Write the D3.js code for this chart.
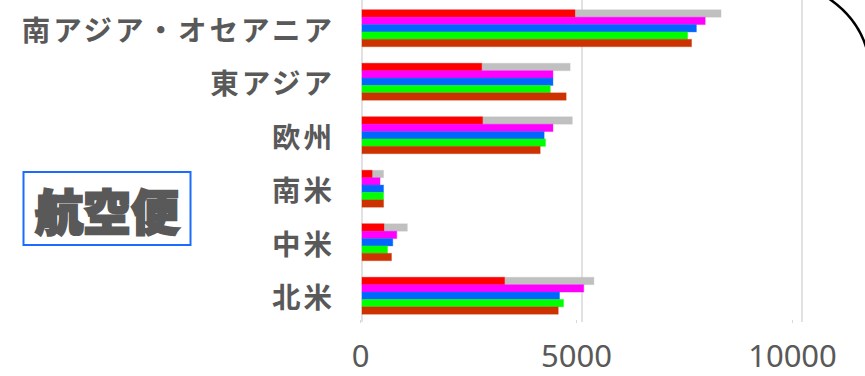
<!DOCTYPE html>
<html><head><meta charset="utf-8">
<script src="https://cdn.jsdelivr.net/npm/d3@7"></script>
<style>
html,body{margin:0;padding:0;background:#fff;}
svg{display:block;}
</style></head>
<body>
<svg id="c" width="865" height="376"></svg>
<script>
const categories = ["南アジア・オセアニア","東アジア","欧州","南米","中米","北米"];
const greyVals    = [8160, 4730, 4780, 490, 1030, 5270];
const redVals     = [4840, 2720, 2740, 230, 500, 3240];
const magentaVals = [7800, 4340, 4340, 410, 790, 5040];
const blueVals    = [7600, 4340, 4140, 490, 700, 4490];
const greenVals   = [7400, 4280, 4170, 490, 580, 4580];
const orangeVals  = [7490, 4640, 4050, 490, 670, 4460];
const xTicks = [0, 5000, 10000];
const title = "航空便";

// series: [values, color, row]
const series = [
  {vals: greyVals, color: "#c0c0c0", row: 0},
  {vals: redVals, color: "#ff0000", row: 0},
  {vals: magentaVals, color: "#ff00ff", row: 1},
  {vals: blueVals, color: "#0066ff", row: 2},
  {vals: greenVals, color: "#00ff00", row: 3},
  {vals: orangeVals, color: "#cc3300", row: 4}
];

const svg = d3.select("#c");
const x = d3.scaleLinear().domain([0, 10000]).range([362, 802]);
const xLab = d3.scaleLinear().domain([0, 10000]).range([360, 792]);
const y = d3.scaleBand().domain(categories).range([1.5, 322.5]).paddingInner(0.31).paddingOuter(0.155);
const yRow = d3.scaleBand().domain([0,1,2,3,4]).range([0, y.bandwidth()]);

// gridlines
svg.append("g").selectAll("line").data(xTicks).join("line")
  .attr("x1", d => x(d)).attr("x2", d => x(d))
  .attr("y1", 0).attr("y2", 322)
  .attr("stroke", "#d9d9d9").attr("stroke-width", 1.5);

// bottom tick labels
const ax = svg.append("g").attr("transform", "translate(0,320)")
  .call(d3.axisBottom(xLab).tickValues(xTicks).tickSize(3).tickPadding(24).tickFormat(d3.format("d")));
ax.select(".domain").remove();
ax.selectAll(".tick line").attr("stroke", "#d9d9d9");
ax.selectAll(".tick text").attr("fill", "#595959").attr("dy", "0.65em")
  .style("font-family", "'Noto Sans', 'DejaVu Sans', sans-serif").style("font-size", "31px");

// bars
series.forEach(s => {
  svg.append("g").selectAll("rect").data(categories).join("rect")
    .attr("x", x(0))
    .attr("y", (c) => y(c) + yRow(s.row))
    .attr("width", (c, i) => x(s.vals[i]) - x(0))
    .attr("height", yRow.bandwidth())
    .attr("fill", s.color)
    .attr("stroke", s.color).attr("stroke-opacity", 0.35).attr("stroke-width", 1);
});

// category labels
svg.append("g").selectAll("text").data(categories).join("text")
  .attr("x", 335).attr("y", c => y(c) + y.bandwidth()/2)
  .attr("text-anchor", "end").attr("dominant-baseline", "central")
  .attr("fill", "#595959")
  .style("font-family", "'Noto Sans CJK JP', sans-serif")
  .style("font-weight", "bold").style("font-size", "28.5px").style("letter-spacing", "3px")
  .text(d => d);

// title box
svg.append("rect").attr("x", 23.5).attr("y", 172).attr("width", 167).attr("height", 73)
  .attr("fill", "#fff").attr("stroke", "#1a6cff").attr("stroke-width", 2);
svg.append("text").attr("x", 107).attr("y", 209)
  .attr("text-anchor", "middle").attr("dominant-baseline", "central")
  .attr("fill", "#595959").attr("stroke", "#595959").attr("stroke-width", 2.5)
  .style("font-family", "'Noto Sans CJK JP', sans-serif")
  .style("font-weight", "900").style("font-size", "48px")
  .text(title);

// corner arc
svg.append("path").attr("d", "M828,-2 Q858,18 867,50")
  .attr("fill", "none").attr("stroke", "#000").attr("stroke-width", 2.5);
</script>
</body></html>
